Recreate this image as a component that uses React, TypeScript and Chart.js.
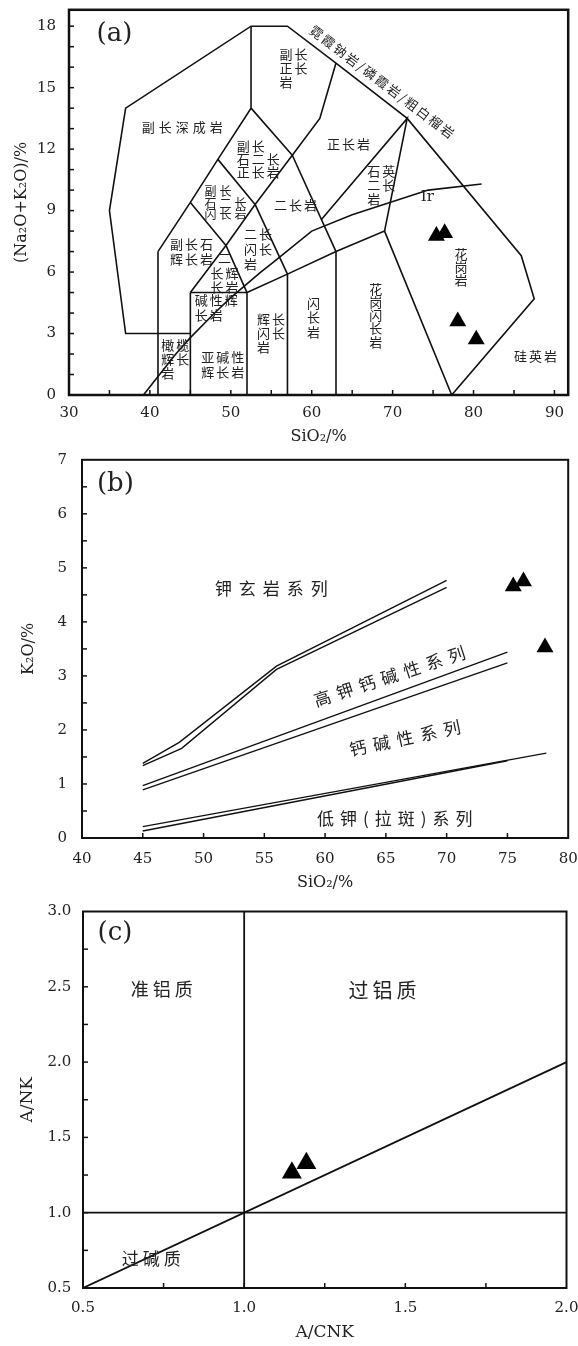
import React, { useEffect, useRef } from 'react';
import { Chart, registerables } from 'chart.js';

Chart.register(...registerables);
Chart.defaults.font.family = 'DejaVu Serif';
Chart.defaults.color = '#222';

// ===== Panel (a): TAS classification of plutonic rocks =====
const tasOuterBoundary = [[41, 3], [37, 3], [35, 9], [37, 14], [52.5, 18], [57, 18], [63, 16.2], [71.8, 13.5], [85.9, 6.8], [87.5, 4.7], [77.3, 0]];
const tasLine41 = [[41, 0], [41, 7]];
const tasPeridotTop = [[41, 3], [45, 3]];
const tasLine45 = [[45, 0], [45, 5]];
const tasGabbroTop = [[45, 5], [52, 5]];
const tasLine52 = [[52, 0], [52, 5]];
const tasLine57 = [[57, 0], [57, 5.9]];
const tasLine63 = [[63, 0], [63, 7]];
const tasBasalLine = [[52, 5], [57, 5.9], [63, 7], [69, 8], [77.3, 0]];
const tasFoidLine = [[41, 7], [45, 9.4], [48.4, 11.5], [52.5, 14], [52.5, 18]];
const tasFoidGabbroLine = [[45, 5], [49.4, 7.3], [45, 9.4]];
const tasMonzogabbroLine = [[49.4, 7.3], [52, 5]];
const tasFoidMonzodioriteLine = [[48.4, 11.5], [53, 9.3], [49.4, 7.3]];
const tasMonzodioriteLine = [[53, 9.3], [57, 5.9]];
const tasFoidMonzosyeniteLine = [[52.5, 14], [57.6, 11.7], [53, 9.3]];
const tasMonzoniteLine = [[57.6, 11.7], [63, 7]];
const tasSyeniteLine = [[57.6, 11.7], [61, 13.5], [63, 16.2]];
const tasQzMonzoniteLine = [[69, 8], [71.8, 13.5], [61.2, 8.57]];
const irvineSiO2 = [39.2, 40, 43.2, 45, 48, 50, 53.7, 55, 60, 65, 74.4, 81];
const irvineAlk = [0, 0.4, 2, 2.8, 4, 4.75, 6, 6.4, 8, 8.8, 10, 10.3];
const sampleSiO2 = [75.41, 76.43, 78.05, 80.33];
const sampleAlk = [7.77, 7.9, 3.6, 2.71];

// ===== Panel (b): SiO2 - K2O =====
const bSampleSiO2 = [75.48, 76.32, 78.09];
const bSampleK2O = [4.66, 4.75, 3.53];
const shoshoniteUpper = [[45, 1.38], [48, 1.77], [56, 3.18], [70, 4.77]];
const shoshoniteLower = [[45, 1.34], [48.2, 1.66], [56, 3.12], [70, 4.64]];
const highKUpper = [[45, 0.97], [75, 3.44]];
const highKLower = [[45, 0.89], [75, 3.24]];
const calcAlkUpper = [[45, 0.21], [78.2, 1.57]];
const calcAlkLower = [[45, 0.13], [75, 1.43]];

// ===== Panel (c): A/CNK - A/NK =====
const cSampleACNK = [1.148, 1.193];
const cSampleANK = [1.266, 1.328];
const metaluminousLimit = [[1, 0.5], [1, 3]];
const peralkalineLimit = [[0.5, 1], [2, 1]];
const equalityLine = [[0.5, 0.5], [2, 2]];

const CJK = '"Noto Sans CJK SC"';

const labelsA = [
  { lines: ['副长深成岩'], x: 44.0, y: 13.09, align: 'center', size: 13, ls: 4 },
  { lines: ['副长', '正长', '岩'], x: 56.03, y: 16.64, lh: 14.2, size: 13, ls: 2 },
  { lines: ['副长', '石二长', '正长岩'], x: 50.72, y: 12.14, lh: 13, size: 13, ls: 2 },
  { lines: ['副长', '石二长', '闪长岩'], x: 46.75, y: 9.94, lh: 11.8, size: 12, ls: 3 },
  { lines: ['副长石', '辉长岩'], x: 42.49, y: 7.35, lh: 15, size: 13, ls: 2 },
  { lines: ['二', '长辉', '长岩'], x: 49.22, y: 6.67, lh: 14.5, size: 13, ls: 2, align: 'center' },
  { lines: ['碱性辉', '长岩'], x: 45.53, y: 4.62, lh: 15, size: 13, ls: 2 },
  { lines: ['橄榄', '辉长', '岩'], x: 41.4, y: 2.43, lh: 14, size: 13, ls: 2 },
  { lines: ['亚碱性', '辉长岩'], x: 46.34, y: 1.86, lh: 15, size: 13, ls: 2 },
  { lines: ['二长', '闪长', '岩'], x: 51.62, y: 7.87, lh: 15, size: 13, ls: 2 },
  { lines: ['二长岩'], x: 57.98, y: 9.29, align: 'center', size: 13, ls: 2 },
  { lines: ['正长岩'], x: 64.55, y: 12.26, align: 'center', size: 13, ls: 2 },
  { lines: ['石英', '二长', '岩'], x: 66.86, y: 10.95, lh: 14, size: 13, ls: 2 },
  { lines: ['Ir'], x: 74.28, y: 9.64, align: 'center', font: '15px "DejaVu Serif"' },
  { lines: ['辉长', '闪长', '岩'], x: 53.24, y: 3.73, lh: 14, size: 13, ls: 2 },
  { lines: ['闪', '长', '岩'], x: 60.23, y: 4.48, lh: 14.2, size: 13, align: 'center' },
  { lines: ['花', '岗', '闪', '长', '岩'], x: 67.92, y: 5.19, lh: 13.3, size: 13, align: 'center' },
  { lines: ['花', '岗', '岩'], x: 78.46, y: 6.9, lh: 13.3, size: 13, align: 'center' },
  { lines: ['硅英岩'], x: 87.66, y: 1.9, align: 'center', size: 13, ls: 2 },
  { lines: ['霓霞钠岩/磷霞岩/粗白榴岩'], x: 68.65, y: 15.25, align: 'center', size: 13, ls: 2, rot: 37 },
  { lines: ['(a)'], x: 33.4, y: 17.6, font: '26px "DejaVu Serif"' },
];

const labelsB = [
  { lines: ['(b)'], x: 41.23, y: 6.54, font: '26px "DejaVu Serif"' },
  { lines: ['钾玄岩系列'], x: 55.58, y: 4.61, align: 'center', size: 17, ls: 7 },
  { lines: ['高钾钙碱性系列'], x: 65.28, y: 3.01, align: 'center', size: 17, ls: 6.5, rot: -18 },
  { lines: ['钙碱性系列'], x: 66.56, y: 1.86, align: 'center', size: 17, ls: 7, rot: -12 },
  { lines: ['低钾(拉斑)系列'], x: 65.74, y: 0.36, align: 'center', size: 17, ls: 6 },
];

const labelsC = [
  { lines: ['(c)'], x: 0.545, y: 2.855, font: '26px "DejaVu Serif"' },
  { lines: ['准铝质'], x: 0.744, y: 2.487, align: 'center', size: 18, ls: 4 },
  { lines: ['过铝质'], x: 1.429, y: 2.474, align: 'center', size: 20, ls: 4 },
  { lines: ['过碱质'], x: 0.712, y: 0.697, align: 'center', size: 17, ls: 4 },
];

const toPts = (pts) => pts.map(([x, y]) => ({ x, y }));
const zipPts = (xs, ys) => xs.map((x, i) => ({ x, y: ys[i] }));

const lineSet = (pts, width) => ({
  data: pts,
  showLine: true,
  borderColor: '#111',
  borderWidth: width,
  pointRadius: 0,
  pointHoverRadius: 0,
  fill: false,
  tension: 0,
  order: 2,
});
const markerSet = (pts, r) => ({
  data: pts,
  showLine: false,
  pointStyle: 'triangle',
  pointRadius: r,
  pointHoverRadius: r,
  backgroundColor: '#000',
  borderColor: '#000',
  borderWidth: 0,
  order: 1,
});

const isMultiple = (v, step) => Math.abs(v / step - Math.round(v / step)) < 1e-6;

const framePlugin = {
  id: 'frame',
  afterDatasetsDraw(chart, _args, opts) {
    const { ctx, chartArea: a, scales } = chart;
    ctx.save();
    ctx.strokeStyle = '#111';
    ctx.lineWidth = 1.5;
    const L = 5;
    const xs = scales.x;
    const ys = scales.y;
    xs.ticks.forEach((t) => {
      if (!isMultiple(t.value, opts.xStep)) return;
      const px = xs.getPixelForValue(t.value);
      if (px <= a.left + 2 || px >= a.right - 2) return;
      ctx.beginPath();
      ctx.moveTo(px, a.bottom);
      ctx.lineTo(px, a.bottom - L);
      ctx.stroke();
    });
    ys.ticks.forEach((t) => {
      if (!isMultiple(t.value, opts.yStep)) return;
      const py = ys.getPixelForValue(t.value);
      if (py <= a.top + 2 || py >= a.bottom - 2) return;
      ctx.beginPath();
      ctx.moveTo(a.left, py);
      ctx.lineTo(a.left + L, py);
      ctx.stroke();
    });
    ctx.lineWidth = opts.frameWidth;
    ctx.strokeRect(a.left, a.top, a.right - a.left, a.bottom - a.top);
    ctx.restore();
  },
};

const textPlugin = {
  id: 'texts',
  afterDatasetsDraw(chart, _args, opts) {
    const { ctx, scales } = chart;
    const xs = scales.x;
    const ys = scales.y;
    (opts.items || []).forEach((it) => {
      ctx.save();
      ctx.font = it.font || `${it.size || 13}px ${CJK}`;
      ctx.fillStyle = '#222';
      try { ctx.letterSpacing = `${it.ls || 0}px`; } catch (e) { /* ignore */ }
      ctx.textAlign = it.align || 'left';
      ctx.textBaseline = 'middle';
      const px = xs.getPixelForValue(it.x) + (it.align === 'center' ? (it.ls || 0) / 2 : 0);
      const py = ys.getPixelForValue(it.y);
      ctx.translate(px, py);
      if (it.rot) ctx.rotate((it.rot * Math.PI) / 180);
      it.lines.forEach((ln, i) => ctx.fillText(ln, 0, i * (it.lh || 14)));
      ctx.restore();
    });
  },
};

function makeScales(p) {
  return {
    x: {
      type: 'linear',
      position: 'bottom',
      min: p.xMin,
      max: p.xMax,
      afterFit: (s) => { s.height = p.xHeight; s.paddingLeft = 0; s.paddingRight = 0; },
      grid: { display: false, drawTicks: false },
      border: { display: false },
      ticks: {
        stepSize: p.xStep,
        includeBounds: false,
        autoSkip: false,
        maxRotation: 0,
        minRotation: 0,
        maxTicksLimit: 1000,
        padding: p.xPad,
        color: '#222',
        font: { family: 'DejaVu Serif', size: 15 },
        callback: p.xLabel,
      },
      title: {
        display: true,
        text: p.xTitle,
        color: '#222',
        font: { family: 'DejaVu Serif', size: p.titleSize },
        padding: { top: 0, bottom: p.xTitlePad },
      },
    },
    y: {
      type: 'linear',
      position: 'left',
      min: p.yMin,
      max: p.yMax,
      afterFit: (s) => { s.width = p.yWidth; s.paddingTop = 0; s.paddingBottom = 0; },
      grid: { display: false, drawTicks: false },
      border: { display: false },
      ticks: {
        stepSize: p.yStep,
        includeBounds: false,
        autoSkip: false,
        maxTicksLimit: 1000,
        padding: p.yPad,
        color: '#222',
        font: { family: 'DejaVu Serif', size: 15 },
        callback: p.yLabel,
      },
      title: {
        display: true,
        text: p.yTitle,
        color: '#222',
        font: { family: 'DejaVu Serif', size: p.titleSize },
        padding: { top: p.yTitlePad, bottom: 0 },
      },
    },
  };
}

function baseOptions(p, padding, frame, items) {
  return {
    responsive: false,
    animation: false,
    devicePixelRatio: 1,
    events: [],
    layout: { padding },
    plugins: {
      legend: { display: false },
      tooltip: { enabled: false },
      frame,
      texts: { items },
    },
    scales: makeScales(p),
  };
}

function buildA() {
  const lines = [
    tasOuterBoundary, tasLine41, tasPeridotTop, tasLine45, tasGabbroTop, tasLine52, tasLine57, tasLine63,
    tasBasalLine, tasFoidLine, tasFoidGabbroLine, tasMonzogabbroLine, tasFoidMonzodioriteLine,
    tasMonzodioriteLine, tasFoidMonzosyeniteLine, tasMonzoniteLine, tasSyeniteLine, tasQzMonzoniteLine,
  ];
  return {
    type: 'scatter',
    data: {
      datasets: [
        markerSet(zipPts(sampleSiO2, sampleAlk), 9.8),
        ...lines.map((l) => lineSet(toPts(l), 1.6)),
        lineSet(zipPts(irvineSiO2, irvineAlk), 1.6),
      ],
    },
    options: baseOptions(
      {
        xMin: 30, xMax: 91.7, xStep: 5, xHeight: 55, xPad: 9,
        xLabel: (v) => (isMultiple(v, 10) ? String(v) : ''),
        xTitle: 'SiO₂/%', xTitlePad: 3.4, titleSize: 16,
        yMin: 0, yMax: 18.8, yStep: 1, yWidth: 69, yPad: 13,
        yLabel: (v) => (isMultiple(v, 3) ? String(v) : ''),
        yTitle: '(Na₂O+K₂O)/%', yTitlePad: 12.4,
      },
      { top: 9, right: 2, left: 0, bottom: 0 },
      { xStep: 5, yStep: 1, frameWidth: 2.5 },
      labelsA,
    ),
    plugins: [framePlugin, textPlugin],
  };
}

function buildB() {
  const lines = [shoshoniteUpper, shoshoniteLower, highKUpper, highKLower, calcAlkUpper, calcAlkLower];
  return {
    type: 'scatter',
    data: {
      datasets: [
        markerSet(zipPts(bSampleSiO2, bSampleK2O), 9.8),
        ...lines.map((l) => lineSet(toPts(l), 1.4)),
      ],
    },
    options: baseOptions(
      {
        xMin: 40, xMax: 80, xStep: 5, xHeight: 62, xPad: 12,
        xLabel: (v) => (isMultiple(v, 5) ? String(v) : ''),
        xTitle: 'SiO₂/%', xTitlePad: 7.4, titleSize: 16,
        yMin: 0, yMax: 7, yStep: 0.5, yWidth: 82, yPad: 15,
        yLabel: (v) => (isMultiple(v, 1) ? String(v) : ''),
        yTitle: 'K₂O/%', yTitlePad: 18.9,
      },
      { top: 7, right: 7, left: 0, bottom: 0 },
      { xStep: 5, yStep: 0.5, frameWidth: 2 },
      labelsB,
    ),
    plugins: [framePlugin, textPlugin],
  };
}

function buildC() {
  const lines = [metaluminousLimit, peralkalineLimit, equalityLine];
  return {
    type: 'scatter',
    data: {
      datasets: [
        markerSet(zipPts(cSampleACNK, cSampleANK), 11.5),
        ...lines.map((l) => lineSet(toPts(l), 1.8)),
      ],
    },
    options: baseOptions(
      {
        xMin: 0.5, xMax: 2.0, xStep: 0.25, xHeight: 58, xPad: 11.3,
        xLabel: (v) => (isMultiple(v, 0.5) ? v.toFixed(1) : ''),
        xTitle: 'A/CNK', xTitlePad: 2.8, titleSize: 17,
        yMin: 0.5, yMax: 3.0, yStep: 0.25, yWidth: 83, yPad: 11.6,
        yLabel: (v) => (isMultiple(v, 0.5) ? v.toFixed(1) : ''),
        yTitle: 'A/NK', yTitlePad: 17.8,
      },
      { top: 8, right: 5, left: 0, bottom: 0 },
      { xStep: 0.25, yStep: 0.25, frameWidth: 2 },
      labelsC,
    ),
    plugins: [framePlugin, textPlugin],
  };
}

function ChartCanvas({ top, height, build }) {
  const ref = useRef(null);
  useEffect(() => {
    const chart = new Chart(ref.current, build());
    return () => chart.destroy();
  }, [build]);
  return (
    <canvas
      ref={ref}
      width={578}
      height={height}
      style={{ position: 'absolute', left: 0, top, width: 578, height, display: 'block' }}
    />
  );
}

export default function App() {
  return (
    <div style={{ position: 'absolute', left: 0, top: 0, width: 578, height: 1346, background: '#fff' }}>
      <ChartCanvas top={0} height={450} build={buildA} />
      <ChartCanvas top={450} height={450} build={buildB} />
      <ChartCanvas top={900} height={446} build={buildC} />
    </div>
  );
}
